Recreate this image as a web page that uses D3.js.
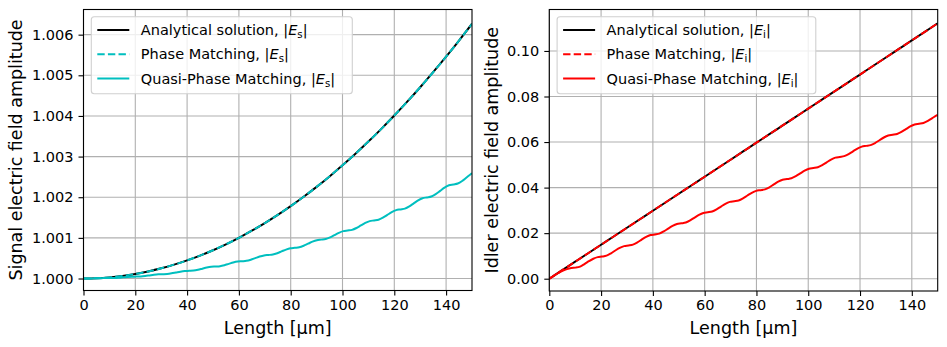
<!DOCTYPE html>
<html lang="en">
<head>
<meta charset="UTF-8">
<script src="https://d3js.org/d3.v7.min.js"></script>
<style>
  body { margin: 0; background: #fff; }
  svg text { font-family: "DejaVu Sans", sans-serif; fill: #000; }
</style>
</head>
<body>
<div id="chart_area"></div>
<script>
// sample positions (um) for the smooth curves
var lengthSmooth = [0, 5, 10, 15, 20, 25, 30, 35, 40, 45, 50, 55, 60, 65, 70, 75,
  80, 85, 90, 95, 100, 105, 110, 115, 120, 125, 130, 135, 140, 145, 150];

var analyticSignal = [1, 1.0000070, 1.0000278, 1.0000626, 1.0001113, 1.0001739, 1.0002504,
  1.0003409, 1.0004452, 1.0005635, 1.0006957, 1.0008418, 1.0010018, 1.0011757, 1.0013636,
  1.0015656, 1.0017815, 1.0020111, 1.0022547, 1.0025123, 1.0027839, 1.0030694, 1.0033688,
  1.0036823, 1.0040096, 1.0043509, 1.0047063, 1.0050756, 1.0054589, 1.0058561, 1.0062673];

var analyticIdler = [0, 0.00373, 0.00746, 0.01119, 0.01492, 0.01865, 0.02238, 0.02611,
  0.02984, 0.03358, 0.03731, 0.04104, 0.04477, 0.04851, 0.05224, 0.05598, 0.05972, 0.06345,
  0.06719, 0.07093, 0.07467, 0.07841, 0.08215, 0.0859, 0.08964, 0.09339, 0.09713, 0.10088,
  0.10463, 0.10838, 0.11213];

// phase matching numerics sit on top of the analytical curve
var pmSignal = analyticSignal.slice();
var pmIdler = analyticIdler.slice();

// quasi phase matching is sampled finer to keep the ripples
var lengthQpm = [0, 1.7, 3.4, 5.1, 6.8, 8.5, 10.2, 11.9, 13.6, 15.3, 17, 18.7, 20.4, 22.1,
  23.8, 25.5, 27.2, 28.9, 30.6, 32.3, 34, 35.7, 37.4, 39.1, 40.8, 42.5, 44.2, 45.9, 47.6,
  49.3, 51, 52.7, 54.4, 56.1, 57.8, 59.5, 61.2, 62.9, 64.6, 66.3, 68, 69.7, 71.4, 73.1,
  74.8, 76.5, 78.2, 79.9, 81.6, 83.3, 85, 86.7, 88.4, 90.1, 91.8, 93.5, 95.2, 96.9, 98.6,
  100.3, 102, 103.7, 105.4, 107.1, 108.8, 110.5, 112.2, 113.9, 115.6, 117.3, 119, 120.7,
  122.4, 124.1, 125.8, 127.5, 129.2, 130.9, 132.6, 134.3, 136, 137.7, 139.4, 141.1, 142.8,
  144.5, 146.2, 147.9, 149.6, 150];

var qpmSignal = [1, 1.0000008, 1.0000030, 1.0000059, 1.0000089, 1.0000110,
  1.0000118, 1.0000142, 1.0000207, 1.0000295, 1.0000384, 1.0000449,
  1.0000472, 1.0000512, 1.0000620, 1.0000768, 1.0000915, 1.0001023,
  1.0001063, 1.0001118, 1.0001270, 1.0001476, 1.0001683, 1.0001834,
  1.0001890, 1.0001961, 1.0002155, 1.0002421, 1.0002687, 1.0002881,
  1.0002953, 1.0003040, 1.0003277, 1.0003602, 1.0003927, 1.0004165,
  1.0004252, 1.0004355, 1.0004635, 1.0005019, 1.0005403, 1.0005684,
  1.0005787, 1.0005905, 1.0006230, 1.0006673, 1.0007116, 1.0007440,
  1.0007558, 1.0007693, 1.0008060, 1.0008562, 1.0009064, 1.0009431,
  1.0009566, 1.0009716, 1.0010127, 1.0010688, 1.0011249, 1.0011660,
  1.0011810, 1.0011976, 1.0012430, 1.0013050, 1.0013670, 1.0014124,
  1.0014290, 1.0014472, 1.0014969, 1.0015648, 1.0016327, 1.0016824,
  1.0017006, 1.0017204, 1.0017744, 1.0018483, 1.0019221, 1.0019761,
  1.0019959, 1.0020172, 1.0020756, 1.0021553, 1.0022350, 1.0022933,
  1.0023147, 1.0023376, 1.0024004, 1.0024860, 1.0025716, 1.0025891];

var qpmIdler = [0, 0.001258, 0.00243, 0.003437, 0.004209, 0.004695,
  0.00486, 0.005326, 0.006429, 0.007684, 0.008762, 0.009473,
  0.00972, 0.010119, 0.011136, 0.012391, 0.01353, 0.014306,
  0.01458, 0.014955, 0.015934, 0.017183, 0.018346, 0.019153,
  0.01944, 0.019803, 0.020762, 0.022005, 0.023181, 0.024005,
  0.0243, 0.024656, 0.025602, 0.02684, 0.028024, 0.02886,
  0.02916, 0.029511, 0.030448, 0.031683, 0.032872, 0.033716,
  0.03402, 0.034367, 0.035298, 0.036531, 0.037724, 0.038574,
  0.03888, 0.039224, 0.04015, 0.041381, 0.042577, 0.043431,
  0.04374, 0.044082, 0.045004, 0.046234, 0.047432, 0.04829,
  0.0486, 0.048941, 0.049859, 0.051088, 0.052287, 0.053148,
  0.05346, 0.053799, 0.054716, 0.055943, 0.057144, 0.058007,
  0.05832, 0.058658, 0.059572, 0.060799, 0.062001, 0.062866,
  0.06318, 0.063517, 0.064429, 0.065655, 0.066858, 0.067725,
  0.06804, 0.068376, 0.069287, 0.070512, 0.071716, 0.07196];

var lengthTicks = [0, 20, 40, 60, 80, 100, 120, 140];
var signalTicks = [1.000, 1.001, 1.002, 1.003, 1.004, 1.005, 1.006];
var idlerTicks = [0.00, 0.02, 0.04, 0.06, 0.08, 0.10];

var svg = d3.select("#chart_area").append("svg")
  .attr("width", 947)
  .attr("height", 347);

function zip(xs, ys) {
  return xs.map(function (x, i) { return [x, ys[i]]; });
}

function drawPanel(p) {
  var x = d3.scaleLinear().domain([0, 150]).range([p.left, p.right]);
  var y = d3.scaleLinear().domain(p.yDomain).range([p.bottom, p.top]);

  var g = svg.append("g");

  g.append("clipPath").attr("id", p.id + "-clip")
    .append("rect")
    .attr("x", p.left).attr("y", p.top)
    .attr("width", p.right - p.left).attr("height", p.bottom - p.top);

  // grid
  g.append("g").selectAll("line").data(lengthTicks).enter().append("line")
    .attr("x1", function (d) { return x(d); }).attr("x2", function (d) { return x(d); })
    .attr("y1", p.top).attr("y2", p.bottom)
    .attr("stroke", "#b0b0b0").attr("stroke-width", 1.1);
  g.append("g").selectAll("line").data(p.yTicks).enter().append("line")
    .attr("y1", function (d) { return y(d); }).attr("y2", function (d) { return y(d); })
    .attr("x1", p.left).attr("x2", p.right)
    .attr("stroke", "#b0b0b0").attr("stroke-width", 1.1);

  var line = d3.line()
    .x(function (d) { return x(d[0]); })
    .y(function (d) { return y(d[1]); })
    .curve(d3.curveMonotoneX);

  var plot = g.append("g").attr("clip-path", "url(#" + p.id + "-clip)");
  plot.append("path").datum(zip(lengthSmooth, p.analytic))
    .attr("d", line).attr("fill", "none").attr("stroke", "#000").attr("stroke-width", 2);
  plot.append("path").datum(zip(lengthSmooth, p.pm))
    .attr("d", line).attr("fill", "none").attr("stroke", p.color).attr("stroke-width", 2)
    .attr("stroke-dasharray", "7.4,3.2");
  plot.append("path").datum(zip(lengthQpm, p.qpm))
    .attr("d", line).attr("fill", "none").attr("stroke", p.color).attr("stroke-width", 2);

  // axes
  var xAxis = g.append("g")
    .attr("transform", "translate(0," + p.bottom + ")")
    .call(d3.axisBottom(x).tickValues(lengthTicks).tickFormat(d3.format("d"))
      .tickSize(5).tickPadding(4));
  var yAxis = g.append("g")
    .attr("transform", "translate(" + p.left + ",0)")
    .call(d3.axisLeft(y).tickValues(p.yTicks).tickFormat(d3.format(p.fmt))
      .tickSize(5).tickPadding(5));
  [xAxis, yAxis].forEach(function (a) {
    a.select(".domain").remove();
    a.selectAll(".tick line").attr("stroke", "#000").attr("stroke-width", 1.1);
    a.selectAll(".tick text").style("font-size", "14.5px")
      .style("font-family", "'DejaVu Sans', sans-serif").attr("fill", "#000");
  });

  g.append("rect")
    .attr("x", p.left).attr("y", p.top)
    .attr("width", p.right - p.left).attr("height", p.bottom - p.top)
    .attr("fill", "none").attr("stroke", "#000").attr("stroke-width", 1.1);

  g.append("text")
    .attr("x", (p.left + p.right) / 2).attr("y", 334)
    .attr("text-anchor", "middle").style("font-size", "17.5px")
    .text("Length [\u03bcm]");

  g.append("text")
    .attr("transform", "translate(" + p.yLabelX + "," + ((p.top + p.bottom) / 2) + ") rotate(-90)")
    .attr("text-anchor", "middle").style("font-size", "17.5px")
    .text(p.yLabel);

  // legend
  var lx = p.left + 7.8, ly = 16.7;
  var leg = g.append("g");
  leg.append("rect")
    .attr("x", lx).attr("y", ly).attr("width", p.legendWidth).attr("height", 77)
    .attr("rx", 3).attr("ry", 3)
    .attr("fill", "#fff").attr("fill-opacity", 0.8)
    .attr("stroke", "#d0d0d0").attr("stroke-width", 1.1);

  var entries = [
    { name: "Analytical solution, |", color: "#000", dash: null },
    { name: "Phase Matching, |", color: p.color, dash: "7.4,3.2" },
    { name: "Quasi-Phase Matching, |", color: p.color, dash: null }
  ];
  entries.forEach(function (e, i) {
    var cy = 30 + i * 24.3;
    leg.append("line")
      .attr("x1", lx + 6).attr("x2", lx + 38)
      .attr("y1", cy).attr("y2", cy)
      .attr("stroke", e.color).attr("stroke-width", 2)
      .attr("stroke-dasharray", e.dash);
    var t = leg.append("text")
      .attr("x", lx + 49.5).attr("y", cy + 5)
      .style("font-size", "14.5px");
    t.append("tspan").text(e.name);
    t.append("tspan").style("font-style", "italic").text("E");
    t.append("tspan").style("font-size", "10.2px").attr("dy", 3).text(p.sub);
    t.append("tspan").attr("dy", -3).text("|");
  });
}

drawPanel({
  id: "signal",
  left: 83.5, right: 472, top: 9.5, bottom: 290.5,
  yDomain: [0.999705, 1.006619],
  yTicks: signalTicks, fmt: ".3f",
  analytic: analyticSignal, pm: pmSignal, qpm: qpmSignal,
  color: "#00bfbf", sub: "s",
  yLabel: "Signal electric field amplitude", yLabelX: 21.5,
  legendWidth: 261
});

drawPanel({
  id: "idler",
  left: 549.3, right: 937.7, top: 9.5, bottom: 291,
  yDomain: [-0.0054, 0.1182],
  yTicks: idlerTicks, fmt: ".2f",
  analytic: analyticIdler, pm: pmIdler, qpm: qpmIdler,
  color: "#ff0000", sub: "i",
  yLabel: "Idler electric field amplitude", yLabelX: 498,
  legendWidth: 258.7
});
</script>
</body>
</html>
